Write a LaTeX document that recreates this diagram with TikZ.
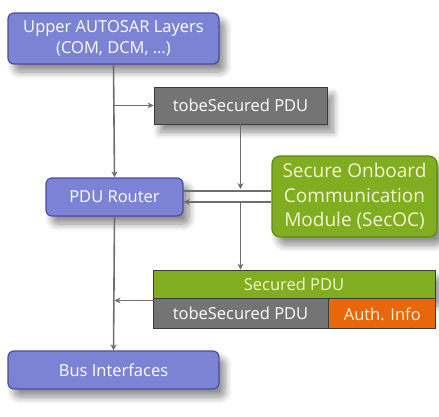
\documentclass[tikz,border=0pt]{standalone}
\usepackage{fontspec}
\setmainfont{Open Sans}
\usepackage{tikz}
\usetikzlibrary{arrows.meta, positioning, calc, shadows, shadows.blur}
\definecolor{LayerBlue}{HTML}{7C83D5}
\definecolor{LayerBlueDark}{HTML}{474EA6}
\definecolor{PduGray}{HTML}{747474}
\definecolor{PduGrayDark}{HTML}{3A3A3A}
\definecolor{SecGreen}{HTML}{80AE20}
\definecolor{SecGreenDark}{HTML}{5C8A12}
\definecolor{AuthOrange}{HTML}{E8660C}
\definecolor{SecText}{HTML}{F2F6D2}
\definecolor{LineGray}{HTML}{6E6E6E}

\begin{document}
\begin{tikzpicture}[x=1pt, y=-1pt, font=\fontsize{16.5}{21}\selectfont,
  shade/.style={blur shadow={shadow xshift=6pt, shadow yshift=-8pt, shadow blur radius=7pt, shadow blur steps=8, shadow opacity=45}},
  layer/.style={shade, rounded corners=6pt, fill=LayerBlue, draw=LayerBlueDark, line width=1.2pt, text=white, align=center, inner sep=0pt},
  pdu/.style={fill=PduGray, draw=PduGrayDark, line width=0.8pt, text=white, inner sep=0pt},
  conn/.style={draw=LineGray, line width=1.6pt},
  arr/.style={conn, -{Stealth[length=6pt, width=6pt]}}]
  \useasboundingbox (0,0) rectangle (439,416);

  \node (upper) [layer, minimum width=211pt, minimum height=51pt] at (113.5,38.5) {Upper AUTOSAR Layers\\(COM, DCM, \dots)};
  \node (tobe) [pdu, shade, minimum width=173pt, minimum height=37pt] at (240.5,105.5) {tobeSecured PDU};
  \node (router) [layer, minimum width=137pt, minimum height=38pt] at (114.5,197) {PDU Router};
  \node (secoc) [shade, rounded corners=8pt, fill=SecGreen, draw=SecGreenDark, line width=1.2pt, text=SecText, align=center, inner sep=0pt, minimum width=165pt, minimum height=81pt, font=\fontsize{19}{24.5}\selectfont] at (354.5,196.5) {Secure Onboard\\Communication\\Module (SecOC)};
  \node (bus) [layer, minimum width=211pt, minimum height=38pt] at (113.5,370) {Bus Interfaces};

  % secured PDU = tobeSecured PDU + authentication info
  \node (secured) [shade, fill=SecGreen, draw=PduGrayDark, line width=0.8pt, text=SecText, inner sep=0pt, minimum width=282pt, minimum height=28pt] at (294,284) {Secured PDU};
  \node (tobe2) [pdu, minimum width=175pt, minimum height=30pt, below right=0pt and 0pt of secured.south west, anchor=north west] {tobeSecured PDU};
  \node (auth) [fill=AuthOrange, draw=PduGrayDark, line width=0.8pt, text=SecText, inner sep=0pt, minimum width=107pt, minimum height=30pt, right=0pt of tobe2] {Auth. Info};

  \coordinate (rout) at ([yshift=6pt]router.east);
  \coordinate (rin) at ([yshift=-5pt]router.east);

  \draw[arr] (upper.south) -- (router.north);
  \draw[arr] (upper.south |- tobe.west) -- (tobe.west);
  \draw[conn] (rout) -- (rout -| secoc.west);
  \draw[arr] (rin -| secoc.west) -- (rin);
  \draw[arr] (tobe.south) -- ([yshift=2pt]tobe.south |- rout);
  \draw[arr] (tobe.south |- rin) -- (tobe.south |- secured.north);
  \draw[arr] ([yshift=-2pt]secured.south west) -- ([yshift=-2pt]secured.south west -| router.south);
  \draw[arr] (router.south) -- (bus.north);
\end{tikzpicture}
\end{document}
